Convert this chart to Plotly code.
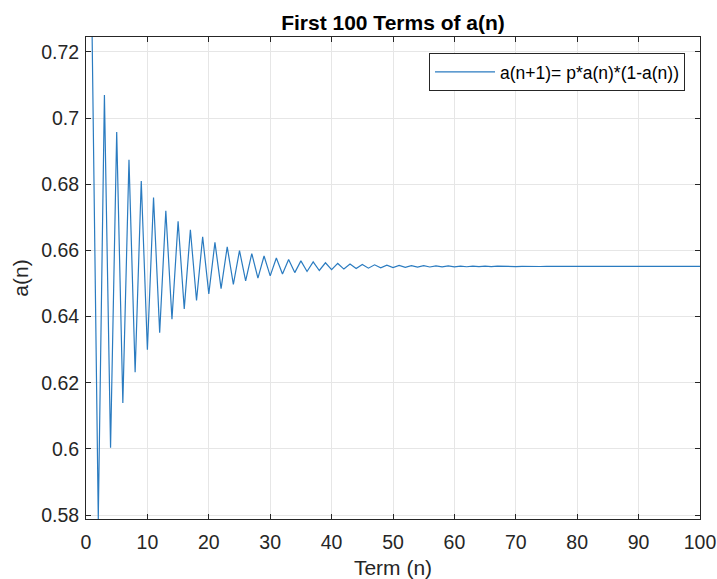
import plotly.graph_objects as go

# Terms of a(n), n = 1..100
n_terms = list(range(1, 101))
a_values = [
    0.7245, 0.57884, 0.70699, 0.60041, 0.69576, 0.61387, 0.68740, 0.62316, 0.68101, 0.62998,
    0.67601, 0.63516, 0.67202, 0.63919, 0.66882, 0.64235, 0.66623, 0.64486, 0.66414, 0.64686,
    0.66245, 0.64847, 0.66108, 0.64976, 0.65996, 0.65080, 0.65906, 0.65163, 0.65832, 0.65231,
    0.65773, 0.65286, 0.65724, 0.65330, 0.65685, 0.65365, 0.65653, 0.65394, 0.65627, 0.65418,
    0.65607, 0.65437, 0.65590, 0.65452, 0.65576, 0.65464, 0.65565, 0.65474, 0.65556, 0.65483,
    0.65548, 0.65489, 0.65542, 0.65495, 0.65538, 0.65499, 0.65534, 0.65502, 0.65531, 0.65505,
    0.65528, 0.65507, 0.65526, 0.65509, 0.65524, 0.65511, 0.65523, 0.65512, 0.65522, 0.65513,
    0.65521, 0.65514, 0.65520, 0.65514, 0.65520, 0.65515, 0.65519, 0.65515, 0.65519, 0.65516,
    0.65519, 0.65516, 0.65518, 0.65516, 0.65518, 0.65516, 0.65518, 0.65517, 0.65518, 0.65517,
    0.65518, 0.65517, 0.65518, 0.65517, 0.65518, 0.65517, 0.65517, 0.65517, 0.65517, 0.65517,
]
x_ticks = [0, 10, 20, 30, 40, 50, 60, 70, 80, 90, 100]
y_ticks = [0.58, 0.6, 0.62, 0.64, 0.66, 0.68, 0.7, 0.72]
y_tick_text = ["0.58", "0.6", "0.62", "0.64", "0.66", "0.68", "0.7", "0.72"]

font_family = "Liberation Sans, Arial, Helvetica, sans-serif"
text_color = "#262626"

fig = go.Figure()
fig.add_trace(go.Scatter(
    x=n_terms, y=a_values, mode="lines",
    name="a(n+1)= p*a(n)*(1-a(n))",
    line=dict(color="#2a7bc0", width=1.2),
))

fig.update_layout(
    width=717, height=579,
    margin=dict(l=86, r=17, t=37, b=60),
    paper_bgcolor="white", plot_bgcolor="white",
    font=dict(family=font_family, color=text_color, size=19),
    title=dict(text="<b>First 100 Terms of a(n)</b>", x=0.5, xref="paper",
               xanchor="center", y=1, yref="paper", yanchor="bottom",
               pad=dict(b=7), font=dict(size=21, color="black")),
    showlegend=True,
    legend=dict(x=0.9756, y=0.967, xanchor="right", yanchor="top",
                bgcolor="white", bordercolor="#262626", borderwidth=1,
                font=dict(size=17.5, color="black"), itemwidth=60,
                tracegroupgap=0, valign="middle"),
)

fig.update_xaxes(
    range=[0, 100], tickvals=x_ticks, ticks="inside", ticklen=5,
    tickcolor=text_color, showline=True, linecolor=text_color, linewidth=1,
    mirror="allticks", showgrid=True, gridcolor="#e6e6e6", gridwidth=1,
    zeroline=False, tickfont=dict(size=19.5, color=text_color), automargin=False,
    ticklabelstandoff=6,
    title=dict(text="Term (n)", font=dict(size=21, color=text_color), standoff=8),
)
fig.update_yaxes(
    range=[0.57884, 0.7245], tickvals=y_ticks, ticktext=y_tick_text,
    ticks="inside", ticklen=5, tickcolor=text_color, showline=True,
    linecolor=text_color, linewidth=1, mirror="allticks", showgrid=True,
    gridcolor="#e6e6e6", gridwidth=1, zeroline=False, automargin=False,
    tickfont=dict(size=19.5, color=text_color), ticklabelstandoff=2,
    title=dict(text="a(n)", font=dict(size=21, color=text_color), standoff=6),
)

fig.write_html("out.html")
